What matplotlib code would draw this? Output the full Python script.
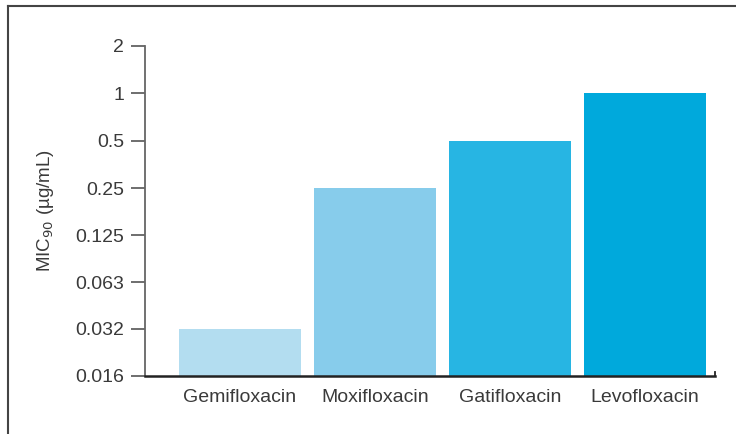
import matplotlib
matplotlib.use("Agg")
import matplotlib.pyplot as plt
from matplotlib.lines import Line2D

drugs = ["Gemifloxacin", "Moxifloxacin", "Gatifloxacin", "Levofloxacin"]
mic90 = [0.032, 0.25, 0.5, 1.0]
colors = ["#b3ddf0", "#87cceb", "#27b5e3", "#00a9dc"]
ytick_vals = [0.016, 0.032, 0.063, 0.125, 0.25, 0.5, 1, 2]
ytick_labels = ["0.016", "0.032", "0.063", "0.125", "0.25", "0.5", "1", "2"]

plt.rcParams["font.family"] = ["Liberation Sans", "DejaVu Sans"]
text_color = "#3a3a3a"

fig = plt.figure(figsize=(7.36, 4.34), dpi=100)
ax = fig.add_axes([145 / 736, 1 - 376 / 434, (715 - 145) / 736, (376 - 46) / 434])

ymin = ytick_vals[0]
x = list(range(len(drugs)))
ax.bar(x, [v - ymin for v in mic90], bottom=ymin, width=0.904, color=colors, zorder=2)

ax.set_yscale("log", base=2)
ax.set_ylim(ymin, ytick_vals[-1])
ax.set_xlim(-0.704, 3.519)
ax.set_yticks(ytick_vals)
ax.set_yticklabels(ytick_labels)
ax.minorticks_off()
ax.set_xticks(x)
ax.set_xticklabels(drugs)

ax.tick_params(axis="y", length=10, width=1.2, color="#555555", pad=5,
               labelsize=14, labelcolor=text_color)
ax.tick_params(axis="x", length=0, pad=9, labelsize=14, labelcolor=text_color)

for s in ["top", "right"]:
    ax.spines[s].set_visible(False)
ax.spines["left"].set_color("#666666")
ax.spines["left"].set_linewidth(1.3)
ax.spines["bottom"].set_color("#222222")
ax.spines["bottom"].set_linewidth(1.8)
ax.spines["bottom"].set_zorder(3)

# small end mark on the baseline
ax.plot([1, 1], [0, 0.013], transform=ax.transAxes, color="#222222",
        lw=1.3, clip_on=False)

ax.set_ylabel("MIC$_{90}$ (µg/mL)", fontsize=13.5, color=text_color, labelpad=14)

# outer frame
fig.add_artist(Line2D([8 / 736, 8 / 736], [0, 1 - 6 / 434], transform=fig.transFigure,
                      color="#444444", lw=1.5))
fig.add_artist(Line2D([8 / 736, 1], [1 - 6 / 434, 1 - 6 / 434], transform=fig.transFigure,
                      color="#444444", lw=1.5))

fig.savefig("out.png", dpi=100)
